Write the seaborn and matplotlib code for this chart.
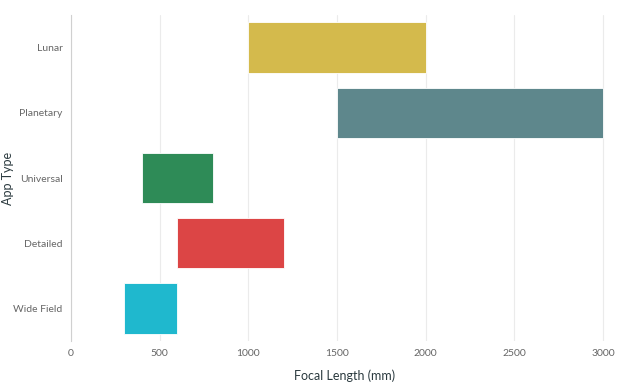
import pandas as pd
import matplotlib.pyplot as plt
import seaborn as sns

apps = ["Lunar", "Planetary", "Universal", "Detailed", "Wide Field"]
start_mm = [1000, 1500, 400, 600, 300]
end_mm = [2000, 3000, 800, 1200, 600]
colors = ["#D4BA4C", "#5E878C", "#2E8B57", "#DC4545", "#1FB8CE"]

df = pd.DataFrame({"App Type": apps, "start": start_mm, "end": end_mm})
df["span"] = df["end"] - df["start"]

sns.set_theme(style="white")
plt.rcParams["font.family"] = ["Lato", "DejaVu Sans"]

fig, ax = plt.subplots(figsize=(6.4, 3.82), dpi=100)
sns.barplot(data=df, y="App Type", x="span", hue="App Type", palette=colors,
            order=apps, legend=False, width=0.78, saturation=1,
            edgecolor="white", linewidth=0.6, ax=ax)

# move each bar to start at its lower focal length
for patch, s in zip(ax.patches, df["start"]):
    patch.set_x(s)

ax.set_xlim(0, 3100)
ax.set_ylim(4.5, -0.5)
ax.set_xticks([0, 500, 1000, 1500, 2000, 2500, 3000])
ax.xaxis.grid(True, color="#ebebeb", linewidth=0.8)
ax.set_axisbelow(True)
for side in ["top", "right", "bottom"]:
    ax.spines[side].set_visible(False)
ax.spines["left"].set_color("#d0d0d0")
ax.spines["left"].set_linewidth(0.8)

ax.tick_params(axis="both", labelsize=7.5, colors="#666666", length=0, pad=6)
ax.set_xlabel("Focal Length (mm)", fontsize=9, color="#2b3a3f")
ax.set_ylabel("App Type", fontsize=9, color="#2b3a3f")

fig.subplots_adjust(left=0.111, right=0.97, top=0.96, bottom=0.108)
# place axis titles in figure pixels to match the layout
ax.xaxis.set_label_coords(345 / 640, 1 - 376 / 382, transform=fig.transFigure)
ax.yaxis.set_label_coords(8 / 640, 1 - 178 / 382, transform=fig.transFigure)
ax.xaxis.label.set_va("center")
ax.yaxis.label.set_va("center")
fig.savefig("out.png", dpi=100)
